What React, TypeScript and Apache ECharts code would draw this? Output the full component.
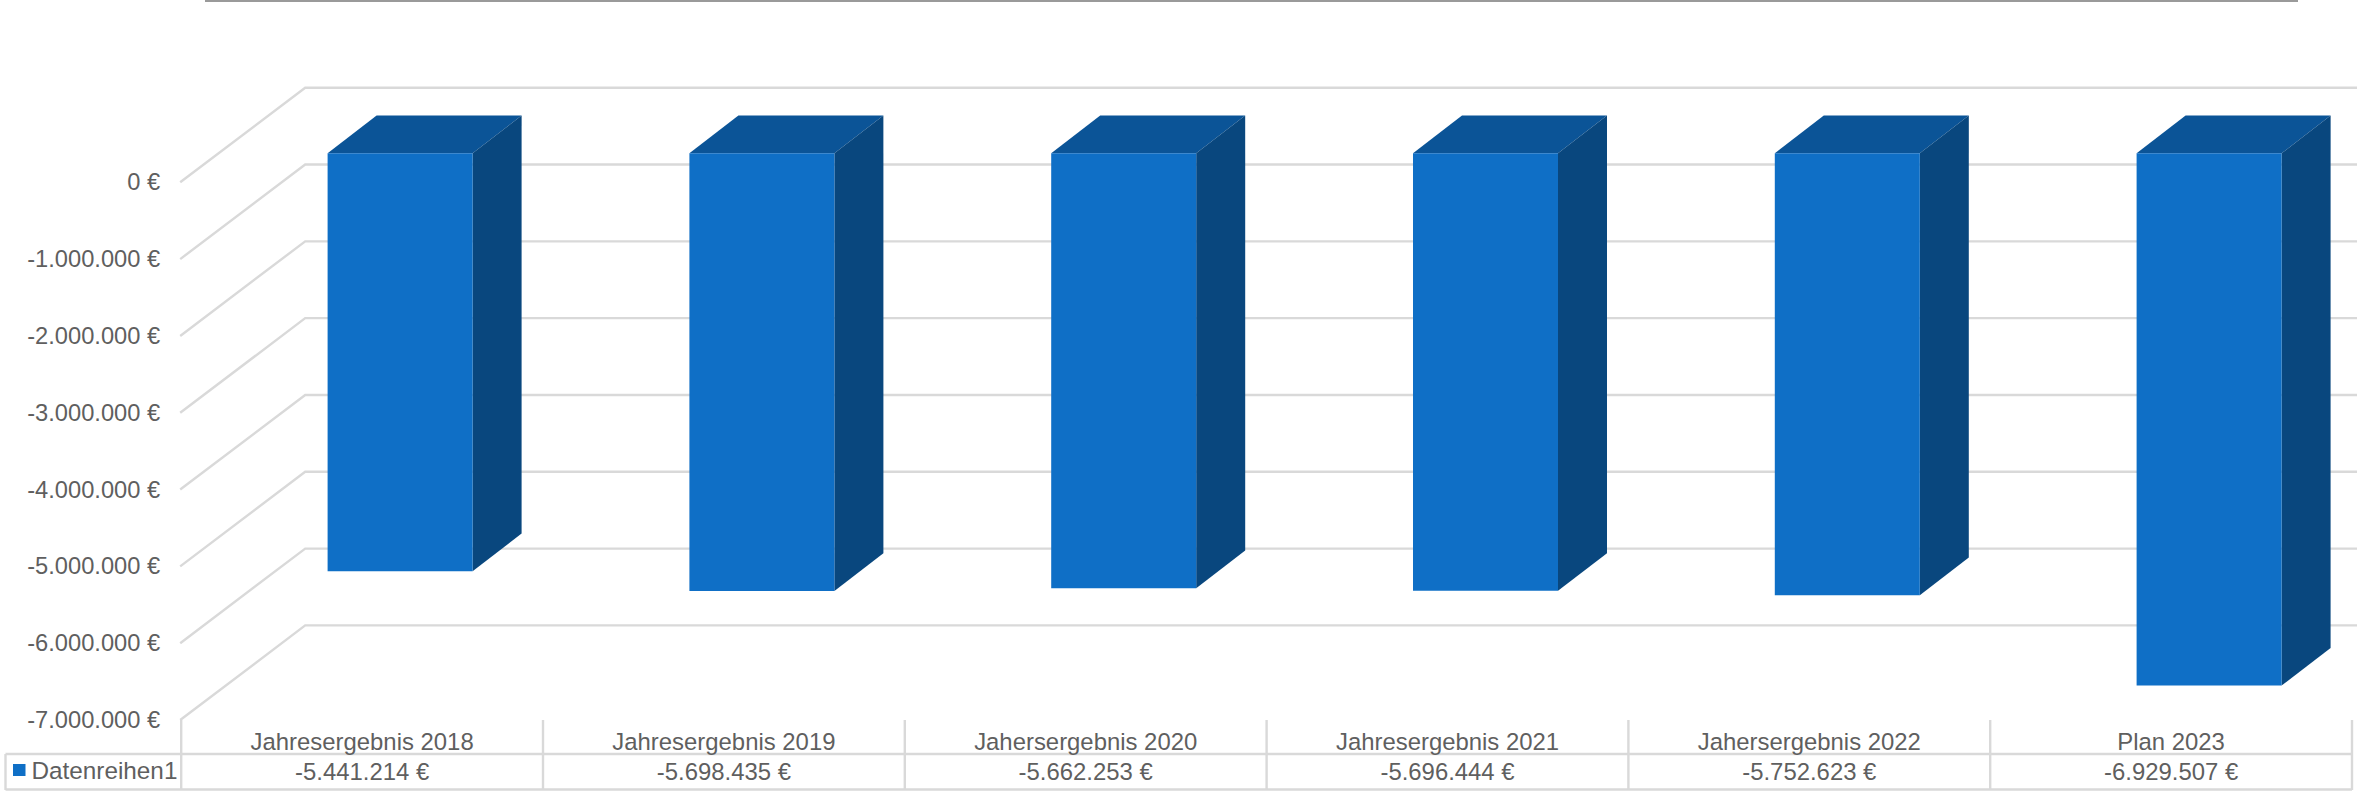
import React, { useEffect, useRef } from "react";
import * as echarts from "echarts";

const categories = ["Jahresergebnis 2018", "Jahresergebnis 2019", "Jahersergebnis 2020", "Jahresergebnis 2021", "Jahersergebnis 2022", "Plan 2023"];
const values = [-5441214, -5698435, -5662253, -5696444, -5752623, -6929507];
const valueLabels = ["-5.441.214 €", "-5.698.435 €", "-5.662.253 €", "-5.696.444 €", "-5.752.623 €", "-6.929.507 €"];
const tickValues = [0, -1000000, -2000000, -3000000, -4000000, -5000000, -6000000, -7000000];
const tickLabels = ["0 €", "-1.000.000 €", "-2.000.000 €", "-3.000.000 €", "-4.000.000 €", "-5.000.000 €", "-6.000.000 €", "-7.000.000 €"];
const seriesName = "Datenreihen1";

const FONT = "Liberation Sans";
const TEXT = "#5f5f5f";
const GRIDLINE = "#d9d9d9";
const FRONT = "#0f6fc6";
const TOP = "#0b5497";
const SIDE = "#09477e";

const W = 2357, H = 791;
const GRID_L = 181.2, GRID_R = 2352, GRID_T = 182.3, GRID_B = 720;
const COL = (GRID_R - GRID_L) / 6;

export default function App() {
  const ref = useRef<HTMLDivElement>(null);
  useEffect(() => {
    const chart = echarts.init(ref.current!, undefined, { renderer: "svg", width: W, height: H });
    const tableLines: any[] = [];
    const hline = (x1: number, x2: number, y: number) => tableLines.push({ type: "line", shape: { x1, y1: y, x2, y2: y }, style: { stroke: GRIDLINE, lineWidth: 2.4 } });
    const vline = (x: number, y1: number, y2: number) => tableLines.push({ type: "line", shape: { x1: x, y1, x2: x, y2 }, style: { stroke: GRIDLINE, lineWidth: 2.4 } });
    hline(5.5, GRID_R, 754);
    hline(5.5, GRID_R, 789.5);
    vline(5.5, 754, 790);
    for (let i = 0; i <= 6; i++) vline(GRID_L + i * COL, GRID_B, 790);

    chart.setOption({
      animation: false,
      backgroundColor: "#ffffff",
      textStyle: { fontFamily: FONT },
      grid: { left: GRID_L, top: GRID_T, width: GRID_R - GRID_L, height: GRID_B - GRID_T, containLabel: false },
      legend: {
        left: 13,
        top: 758,
        padding: 0,
        itemWidth: 12.5,
        itemHeight: 12,
        itemGap: 0,
        icon: "rect",
        data: [seriesName],
        textStyle: { fontFamily: FONT, fontSize: 24.3, color: TEXT, padding: [1, 0, 0, 1] },
      },
      xAxis: [
        {
          type: "category",
          data: categories,
          position: "bottom",
          axisLine: { show: false },
          axisTick: { show: false },
          splitLine: { show: false },
          axisLabel: { interval: 0, margin: 21, fontFamily: FONT, fontSize: 23.9, color: TEXT, verticalAlign: "middle" },
        },
        {
          type: "category",
          data: valueLabels,
          position: "bottom",
          offset: 30,
          axisLine: { show: false },
          axisTick: { show: false },
          splitLine: { show: false },
          axisLabel: { interval: 0, margin: 21, fontFamily: FONT, fontSize: 23.9, color: TEXT, verticalAlign: "middle" },
        },
      ],
      yAxis: {
        type: "value",
        min: -7000000,
        max: 0,
        interval: 1000000,
        axisLine: { show: false },
        axisTick: { show: false },
        splitLine: { show: false },
        axisLabel: {
          margin: 21,
          fontFamily: FONT,
          fontSize: 23.7,
          color: TEXT,
          padding: [3, 0, 0, 0],
          formatter: (v: number) => tickLabels[tickValues.indexOf(v)] ?? "",
        },
      },
      graphic: [
        { type: "line", shape: { x1: 205, y1: 1, x2: 2298, y2: 1 }, style: { stroke: "#9a9a9a", lineWidth: 2 } },
        ...tableLines,
      ],
      series: [
        {
          type: "custom",
          name: "Gitternetz",
          silent: true,
          z: 1,
          clip: false,
          data: tickValues.map((v) => [0, v]),
          encode: { x: 0, y: 1 },
          renderItem: (params: any, api: any) => {
            const y = api.coord([0, api.value(1)])[1];
            const x0 = params.coordSys.x - 1;
            return {
              type: "polyline",
              shape: { points: [[x0, y], [x0 + 125, y - 94.6], [W, y - 94.6]] },
              style: { stroke: GRIDLINE, lineWidth: 2.4, fill: "none" },
            };
          },
        },
        {
          type: "custom",
          name: seriesName,
          z: 2,
          clip: false,
          color: FRONT,
          itemStyle: { color: FRONT },
          data: values.map((v, i) => [i, v]),
          encode: { x: 0, y: 1 },
          renderItem: (_params: any, api: any) => {
            const cx = api.coord([api.value(0), 0])[0] + 38;
            const y0 = api.coord([api.value(0), 0])[1] - 29;
            const y1 = api.coord([api.value(0), api.value(1)])[1] - 29;
            const hw = 72.5, dx = 49, dy = 37.7;
            const l = cx - hw, r = cx + hw;
            return {
              type: "group",
              children: [
                {
                  type: "polygon",
                  shape: { points: [[l, y0], [l + dx, y0 - dy], [r + dx, y0 - dy], [r, y0]] },
                  style: { fill: TOP },
                },
                {
                  type: "polygon",
                  shape: { points: [[r, y0], [r + dx, y0 - dy], [r + dx, y1 - dy], [r, y1]] },
                  style: { fill: SIDE },
                },
                {
                  type: "rect",
                  shape: { x: l, y: y0, width: r - l, height: y1 - y0 },
                  style: { fill: FRONT },
                },
              ],
            };
          },
        },
      ],
    });
    return () => chart.dispose();
  }, []);
  return <div ref={ref} style={{ position: "absolute", left: 0, top: 0, width: W, height: H }} />;
}
